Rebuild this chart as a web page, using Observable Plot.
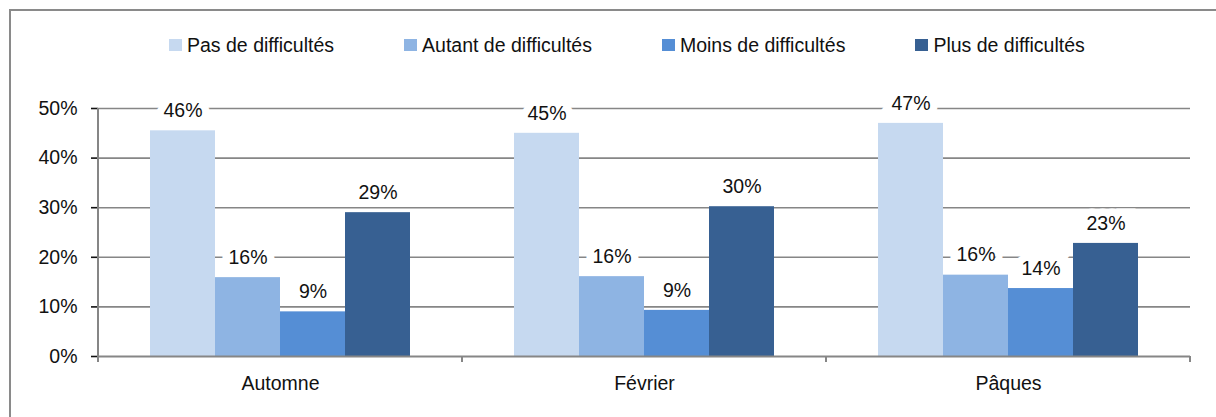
<!DOCTYPE html>
<html>
<head>
<meta charset="utf-8">
<script src="https://cdn.jsdelivr.net/npm/d3@7"></script>
<script src="https://cdn.jsdelivr.net/npm/@observablehq/plot@0.6"></script>
<style>
  html, body { margin: 0; padding: 0; background: #fff; }
  #wrap { position: relative; width: 1216px; height: 417px; overflow: hidden; font-family: "Liberation Sans", Arial, sans-serif; }
  #frame { position: absolute; left: 9px; top: 9px; width: 1300px; height: 500px; border-top: 2px solid #8a8a8a; border-left: 2px solid #8a8a8a; box-sizing: border-box; }
  #legend { position: absolute; left: 169px; top: 33px; display: flex; gap: 70px; font-size: 19.5px; color: #111; }
  .item { display: flex; align-items: center; gap: 5px; line-height: 24px; }
  .sw { width: 13px; height: 12px; display: inline-block; }
  #chart { position: absolute; left: 0; top: 70px; }
</style>
</head>
<body>
<div id="wrap">
  <div id="frame"></div>
  <div id="legend"></div>
  <div id="chart"></div>
</div>
<script>
const categories = ["Automne", "Février", "Pâques"];
const series = ["Pas de difficultés", "Autant de difficultés", "Moins de difficultés", "Plus de difficultés"];
const colors = ["#C6D9F0", "#8EB4E3", "#558ED5", "#376092"];
const pasValues = [45.5, 45.0, 47.0];
const autantValues = [15.9, 16.1, 16.4];
const moinsValues = [9.0, 9.3, 13.7];
const plusValues = [29.0, 30.2, 22.8];
const yTicks = [0, 10, 20, 30, 40, 50];

const seriesValues = [pasValues, autantValues, moinsValues, plusValues];
const data = [];
categories.forEach((c, i) => {
  series.forEach((s, j) => {
    data.push({category: c, series: s, value: seriesValues[j][i]});
  });
});

// Legend
const legend = document.getElementById("legend");
series.forEach((s, j) => {
  const it = document.createElement("div");
  it.className = "item";
  it.innerHTML = `<span class="sw" style="background:${colors[j]}"></span><span>${s}</span>`;
  legend.appendChild(it);
});

const grid = "#868686";
const plot = Plot.plot({
  width: 1216,
  height: 347,
  marginTop: 38,
  marginBottom: 61,
  marginLeft: 98,
  marginRight: 26,
  style: {fontFamily: "Liberation Sans, Arial, sans-serif", fontSize: "19.5px", color: "#111", background: "transparent"},
  facet: {data, x: "category"},
  fx: {domain: categories, padding: 0, tickSize: 0, tickPadding: 20, label: null},
  x: {domain: series, paddingInner: 0, paddingOuter: 0.758, axis: null},
  y: {domain: [0, 50], ticks: yTicks, tickSize: 7, tickPadding: 14, tickFormat: d => d + "%", label: null, line: false},
  color: {domain: series, range: colors},
  marks: [
    Plot.ruleY(yTicks.slice(1), {stroke: grid, strokeWidth: 1.6}),
    Plot.barY(data, {x: "series", y: "value", fill: "series", inset: 0}),
    Plot.ruleY([0], {stroke: grid, strokeWidth: 2}),
    Plot.text(data, {x: "series", y: "value", text: d => Math.round(d.value) + "%", dy: -20, lineAnchor: "middle",
      fill: "#111", stroke: "white", strokeWidth: 15, strokeLinejoin: "miter", fontSize: 19.5})
  ]
});
document.getElementById("chart").appendChild(plot);

// Axis line and category boundary ticks computed from the plot's scales
const fx = plot.scale("fx");
const ys = plot.scale("y");
const yScale = d3.scaleLinear(ys.domain, ys.range);
const svg = d3.select(plot);
const y0 = yScale(0), yTop = yScale(50);
const x0 = fx.range[0];
const boundaries = d3.range(categories.length + 1).map(i => x0 + i * fx.step);
svg.append("line").attr("x1", x0).attr("x2", x0).attr("y1", yTop).attr("y2", y0 + 6)
  .attr("stroke", grid).attr("stroke-width", 2);
svg.selectAll("line.bt").data(boundaries).join("line").attr("class", "bt")
  .attr("x1", d => d).attr("x2", d => d).attr("y1", y0).attr("y2", y0 + 6)
  .attr("stroke", grid).attr("stroke-width", 2);
svg.selectAll("g[aria-label='y-axis tick']").attr("stroke", grid).attr("stroke-width", 1.6);
</script>
</body>
</html>
